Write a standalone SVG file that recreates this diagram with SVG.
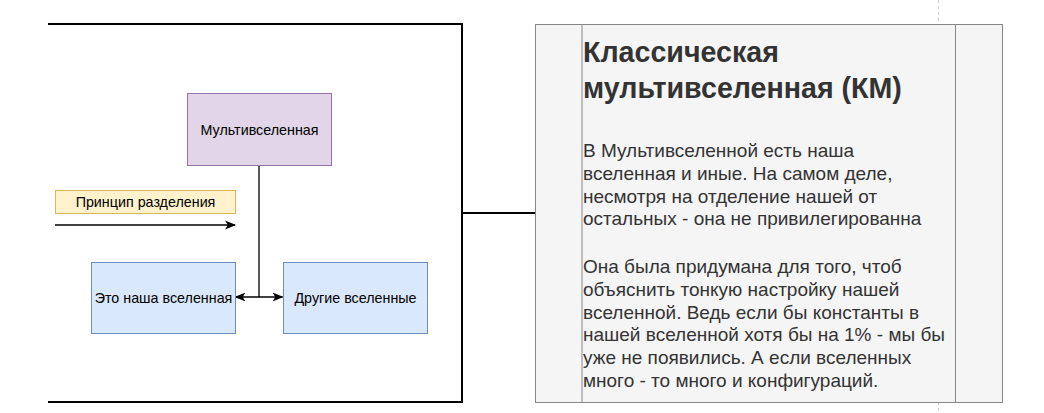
<svg xmlns="http://www.w3.org/2000/svg" width="1044" height="413" viewBox="0 0 1044 413">
<style>
.lbl{font-family:"Liberation Sans",Arial,sans-serif;font-size:14.3px;fill:#000;text-anchor:middle;dominant-baseline:central}
.ttl{font-family:"Liberation Sans",Arial,sans-serif;font-size:28.6px;font-weight:bold;fill:#333}
.body{font-family:"Liberation Sans",Arial,sans-serif;font-size:19px;fill:#333}
.edge{fill:none;stroke:#000;stroke-width:1.3}
</style>
<defs>
<marker id="arr" viewBox="0 0 10 10" refX="9" refY="5" markerWidth="11" markerHeight="11" markerUnits="userSpaceOnUse" orient="auto-start-reverse">
<path d="M0,1 L10,5 L0,9 L2.5,5 Z" fill="#000"/>
</marker>
</defs>
<rect width="1044" height="413" fill="#fff"/>
<g id="page-break" stroke="#ccc" stroke-width="1" stroke-dasharray="3,3">
<line x1="938.5" y1="0" x2="938.5" y2="24"/>
<line x1="938.5" y1="402" x2="938.5" y2="413"/>
</g>
<g id="frame">
<path d="M48,24 H462 V402 H48" fill="none" stroke="#000" stroke-width="2"/>
</g>
<g id="panel">
<rect x="535.5" y="24.5" width="467" height="378" fill="#f5f5f5" stroke="#888" stroke-width="1"/>
<line x1="582" y1="24.5" x2="582" y2="402.5" stroke="#888" stroke-width="1"/>
<line x1="955.5" y1="24.5" x2="955.5" y2="402.5" stroke="#888" stroke-width="1"/>
<text class="ttl" x="583" y="62">Классическая</text>
<text class="ttl" x="583" y="98">мультивселенная (КМ)</text>
<text class="body" x="583" y="157">В Мультивселенной есть наша</text>
<text class="body" x="583" y="180">вселенная и иные. На самом деле,</text>
<text class="body" x="583" y="202.5">несмотря на отделение нашей от</text>
<text class="body" x="583" y="225.3">остальных - она не привилегированна</text>
<text class="body" x="583" y="273.3">Она была придумана для того, чтоб</text>
<text class="body" x="583" y="296">объяснить тонкую настройку нашей</text>
<text class="body" x="583" y="318.7">вселенной. Ведь если бы константы в</text>
<text class="body" x="583" y="341.3">нашей вселенной хотя бы на 1% - мы бы</text>
<text class="body" x="583" y="364">уже не появились. А если вселенных</text>
<text class="body" x="583" y="386.7">много - то много и конфигураций.</text>
</g>
<g id="connectors">
<line x1="462" y1="213" x2="535" y2="213" stroke="#000" stroke-width="2"/>
<line class="edge" x1="55" y1="225" x2="235" y2="225" marker-end="url(#arr)"/>
<line class="edge" x1="259" y1="165.5" x2="259" y2="297"/>
<line class="edge" x1="235.5" y1="297" x2="282.5" y2="297" marker-start="url(#arr)" marker-end="url(#arr)"/>
</g>
<g id="node-multiverse">
<rect x="187.5" y="93.5" width="144" height="72" fill="#e1d5e7" stroke="#9673a6"/>
<text class="lbl" x="259.5" y="129.5">Мультивселенная</text>
</g>
<g id="node-principle">
<rect x="55.5" y="190.5" width="180" height="23" fill="#fff2cc" stroke="#d6b656"/>
<text class="lbl" x="145.5" y="202">Принцип разделения</text>
</g>
<g id="node-ours">
<rect x="91.5" y="262.5" width="144" height="71" fill="#dae8fc" stroke="#6c8ebf"/>
<text class="lbl" x="163.5" y="297.5">Это наша вселенная</text>
</g>
<g id="node-others">
<rect x="283.5" y="262.5" width="144" height="71" fill="#dae8fc" stroke="#6c8ebf"/>
<text class="lbl" x="355.5" y="297.5">Другие вселенные</text>
</g>
</svg>
